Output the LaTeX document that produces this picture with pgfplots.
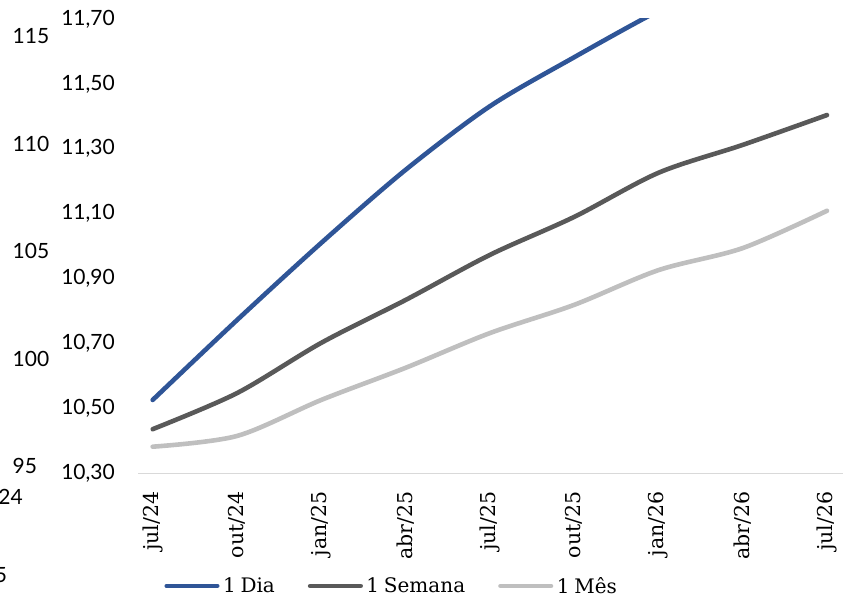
\documentclass[border=0pt]{standalone}
\usepackage{fontspec}
\setmainfont{Lato}
\newfontfamily\serifx[WordSpace=0.75]{DejaVu Serif}
\usepackage{pgfplots}
\pgfplotsset{compat=1.18}
\usepackage{pgfplotstable}

\definecolor{dia}{HTML}{2F5597}
\definecolor{semana}{HTML}{595959}
\definecolor{mes}{HTML}{BFBFBF}
\definecolor{eixo}{HTML}{D9D9D9}

\pgfplotstableread{
x dia semana mes
0 10.526 10.436 10.382
1 10.772 10.547 10.415
2 11.010 10.702 10.526
3 11.235 10.834 10.625
4 11.431 10.973 10.732
5 11.582 11.090 10.819
6 11.725 11.226 10.926
7 11.850 11.312 10.994
8 11.960 11.404 11.109
}\curvas

\begin{document}
\begin{tikzpicture}
% restos do grafico vizinho
\begin{axis}[
  at={(12.5pt,132.7pt)}, anchor=south west,
  scale only axis, width=20pt, height=430pt,
  xmin=0, xmax=1, ymin=95, ymax=115,
  ytick={95,100,105,110,115},
  hide x axis,
  axis y line*=left,
  y axis line style={draw=none},
  major tick length=0pt,
  yticklabel style={anchor=west, inner sep=0pt,
    font=\fontsize{21}{25}\selectfont},
  /pgf/number format/assume math mode=true,
]
\end{axis}
\node[anchor=east, inner sep=0pt, font=\fontsize{21}{25}\selectfont] at (23pt,102.3pt) {24};
\node[anchor=east, inner sep=0pt, font=\fontsize{21}{25}\selectfont] at (7.3pt,24pt) {5};

\begin{axis}[
  at={(138pt,125.7pt)}, anchor=south west,
  scale only axis, width=705pt, height=454.3pt,
  xmin=-0.174, xmax=8.19, ymin=10.3, ymax=11.7,
  axis x line*=bottom, axis y line*=left,
  x axis line style={draw=eixo, line width=1.3pt},
  y axis line style={draw=none},
  major tick length=0pt,
  xtick={0,...,8},
  xticklabels={jul/24,out/24,jan/25,abr/25,jul/25,out/25,jan/26,abr/26,jul/26},
  x tick label style={rotate=90, anchor=east, inner xsep=18pt, inner ysep=0pt,
    font=\serifx\fontsize{20.5}{24}\selectfont},
  ytick={10.3,10.5,10.7,10.9,11.1,11.3,11.5,11.7},
  yticklabel style={anchor=east, inner xsep=23pt, inner ysep=0pt,
    font=\fontsize{21}{25}\selectfont,
    /pgf/number format/.cd, fixed, fixed zerofill, precision=2, use comma},
  /pgf/number format/assume math mode=true,
  legend columns=-1,
  legend style={at={(0.0372,-0.248)}, anchor=west, draw=none, fill=none,
    inner sep=0pt, font=\serifx\fontsize{20}{24}\selectfont,
    nodes={inner sep=0pt},
    /tikz/every odd column/.append style={column sep=3.5pt},
    /tikz/every even column/.append style={column sep=33pt}},
  legend image code/.code={\draw[#1] (0pt,0pt) -- (50.5pt,0pt);},
  every axis plot/.append style={line width=4.6pt, line cap=round, smooth},
]
\addplot[dia] table[x=x, y=dia] {\curvas};
\addlegendentry{1 Dia}
\addplot[semana] table[x=x, y=semana] {\curvas};
\addlegendentry{1 Semana}
\addplot[mes] table[x=x, y=mes] {\curvas};
\addlegendentry{1 Mês}
\end{axis}
\pgfresetboundingbox
\useasboundingbox (0pt,0pt) rectangle (845pt,599pt);
\end{tikzpicture}
\end{document}
